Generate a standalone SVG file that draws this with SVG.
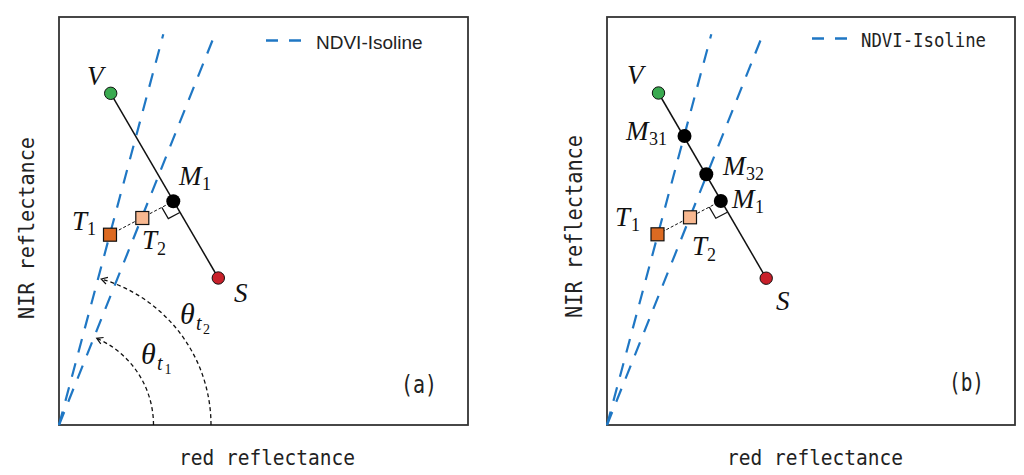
<svg xmlns="http://www.w3.org/2000/svg" width="1024" height="475" viewBox="0 0 1024 475">
<defs>
<style>
.frame{fill:none;stroke:#333;stroke-width:1.8}
.iso{fill:none;stroke:#1f77c4;stroke-width:2.2;stroke-dasharray:14 11}
.leg{fill:none;stroke:#1f77c4;stroke-width:2.6;stroke-dasharray:12 11}
.vs{fill:none;stroke:#111;stroke-width:1.5}
.tm{fill:none;stroke:#111;stroke-width:1;stroke-dasharray:3 2}
.ra{fill:none;stroke:#111;stroke-width:1.2}
.arc{fill:none;stroke:#111;stroke-width:1.3;stroke-dasharray:4 3}
.math{font-family:"Liberation Serif","DejaVu Serif",serif;font-style:italic;font-size:27px;fill:#111}
.theta{font-family:"Liberation Serif","DejaVu Serif",serif;font-style:italic;font-size:30px;fill:#111}
.sub{font-family:"Liberation Serif","DejaVu Serif",serif;font-style:normal;font-size:18px;fill:#111}
.subi{font-family:"Liberation Serif","DejaVu Serif",serif;font-style:italic;font-size:20px;fill:#111}
.subsub{font-family:"Liberation Serif","DejaVu Serif",serif;font-style:normal;font-size:14px;fill:#111}
.goth{font-family:"DejaVu Sans Mono","Liberation Mono",monospace;fill:#222}
.lsans{font-family:"Liberation Sans","Noto Sans",sans-serif;font-size:19px;fill:#222}
.v{fill:#3aaa50;stroke:#111;stroke-width:1}
.s{fill:#c8202a;stroke:#111;stroke-width:1}
.m{fill:#000}
.t1{fill:#dc6a22;stroke:#111;stroke-width:1.2}
.t2{fill:#f8b890;stroke:#111;stroke-width:1.2}
</style>
<marker id="ah" viewBox="-8 -5 10 10" refX="0" refY="0" markerWidth="10" markerHeight="10" markerUnits="userSpaceOnUse" orient="auto">
<path d="M -6 -3.5 L 0 0 L -6 3.5" fill="none" stroke="#111" stroke-width="1.2" stroke-dasharray="none"/>
</marker>
</defs>

<!-- Panel (a) -->
<g id="panel-a-frame"><rect class="frame" x="59" y="17" width="409" height="408"/></g>
<g id="connectors-a">
<path class="iso" d="M59 425 L163.3 34.3"/>
<path class="iso" d="M59 425 L213.3 38.3"/>
<path class="vs" d="M110.7 93.3 L218.3 278"/>
<path class="tm" d="M110 234.7 L173.3 201.3"/>
<path class="ra" d="M161.8 207.4 L168.3 218.6 L179.8 212.5"/>
<path class="arc" d="M153.5 425 A94.5 94.5 0 0 0 96.7 338.3" marker-end="url(#ah)"/>
<path class="arc" d="M211 425 A152 152 0 0 0 101.2 279" marker-end="url(#ah)"/>
</g>
<g id="legend-a">
<path class="leg" d="M266 40.5 H302"/>
<text class="lsans" x="316" y="49">NDVI-Isoline</text>
</g>
<g id="node-a-V"><circle class="v" cx="110.7" cy="93.3" r="6.2"/><text class="math" x="87" y="85">V</text></g>
<g id="node-a-S"><circle class="s" cx="218.3" cy="278" r="6.2"/><text class="math" x="234" y="302">S</text></g>
<g id="node-a-M1"><circle class="m" cx="173.3" cy="201.3" r="7"/><text class="math" x="179" y="185">M</text><text class="sub" x="202" y="190">1</text></g>
<g id="node-a-T1"><rect class="t1" x="103.5" y="228.2" width="13" height="13"/><text class="math" x="72" y="230">T</text><text class="sub" x="87" y="235">1</text></g>
<g id="node-a-T2"><rect class="t2" x="135.8" y="211.5" width="13" height="13"/><text class="math" x="142" y="249">T</text><text class="sub" x="157" y="255">2</text></g>
<g id="label-a-theta2"><text class="theta" x="180" y="324">θ</text><text class="subi" x="196" y="330">t</text><text class="subsub" x="203" y="334">2</text></g>
<g id="label-a-theta1"><text class="theta" x="141" y="364">θ</text><text class="subi" x="157" y="370">t</text><text class="subsub" x="164.5" y="374">1</text></g>
<text class="goth" x="401" y="393" font-size="25" textLength="36" lengthAdjust="spacingAndGlyphs">(a)</text>
<text class="goth" x="179" y="465" font-size="22" textLength="176" lengthAdjust="spacingAndGlyphs">red reflectance</text>
<text class="goth" transform="translate(33.5,228) rotate(-90)" x="-91" y="0" font-size="22" textLength="182" lengthAdjust="spacingAndGlyphs">NIR reflectance</text>

<!-- Panel (b) -->
<g id="panel-b-frame"><rect class="frame" x="607" y="17" width="408" height="408"/></g>
<g id="connectors-b">
<path class="iso" d="M607 425 L711.3 34.3"/>
<path class="iso" d="M607 425 L761.3 38.3"/>
<path class="vs" d="M658.5 93 L766.2 278.2"/>
<path class="tm" d="M657.5 234.3 L720.8 201"/>
<path class="ra" d="M709.3 207.1 L715.8 218.3 L727.3 212.2"/>
</g>
<g id="legend-b">
<path class="leg" d="M812 38.5 H848"/>
<text class="goth" x="861" y="47" font-size="19" textLength="125" lengthAdjust="spacingAndGlyphs">NDVI-Isoline</text>
</g>
<g id="node-b-V"><circle class="v" cx="658.5" cy="93" r="6.2"/><text class="math" x="627" y="84">V</text></g>
<g id="node-b-S"><circle class="s" cx="766.2" cy="278.2" r="6.2"/><text class="math" x="776" y="310">S</text></g>
<g id="node-b-M31"><circle class="m" cx="684.5" cy="136" r="7"/><text class="math" x="626" y="140">M</text><text class="sub" x="649" y="145">31</text></g>
<g id="node-b-M32"><circle class="m" cx="706.3" cy="174.3" r="7"/><text class="math" x="723" y="175">M</text><text class="sub" x="746" y="180">32</text></g>
<g id="node-b-M1"><circle class="m" cx="720.8" cy="201" r="7"/><text class="math" x="732" y="208">M</text><text class="sub" x="755" y="213">1</text></g>
<g id="node-b-T1"><rect class="t1" x="651" y="227.8" width="13" height="13"/><text class="math" x="615" y="226">T</text><text class="sub" x="631" y="231">1</text></g>
<g id="node-b-T2"><rect class="t2" x="683.5" y="210.8" width="13" height="13"/><text class="math" x="692" y="255">T</text><text class="sub" x="707" y="261">2</text></g>
<text class="goth" x="949" y="391" font-size="25" textLength="35" lengthAdjust="spacingAndGlyphs">(b)</text>
<text class="goth" x="727" y="465" font-size="22" textLength="176" lengthAdjust="spacingAndGlyphs">red reflectance</text>
<text class="goth" transform="translate(581.5,227) rotate(-90)" x="-91" y="0" font-size="23" textLength="183" lengthAdjust="spacingAndGlyphs">NIR reflectance</text>
</svg>
